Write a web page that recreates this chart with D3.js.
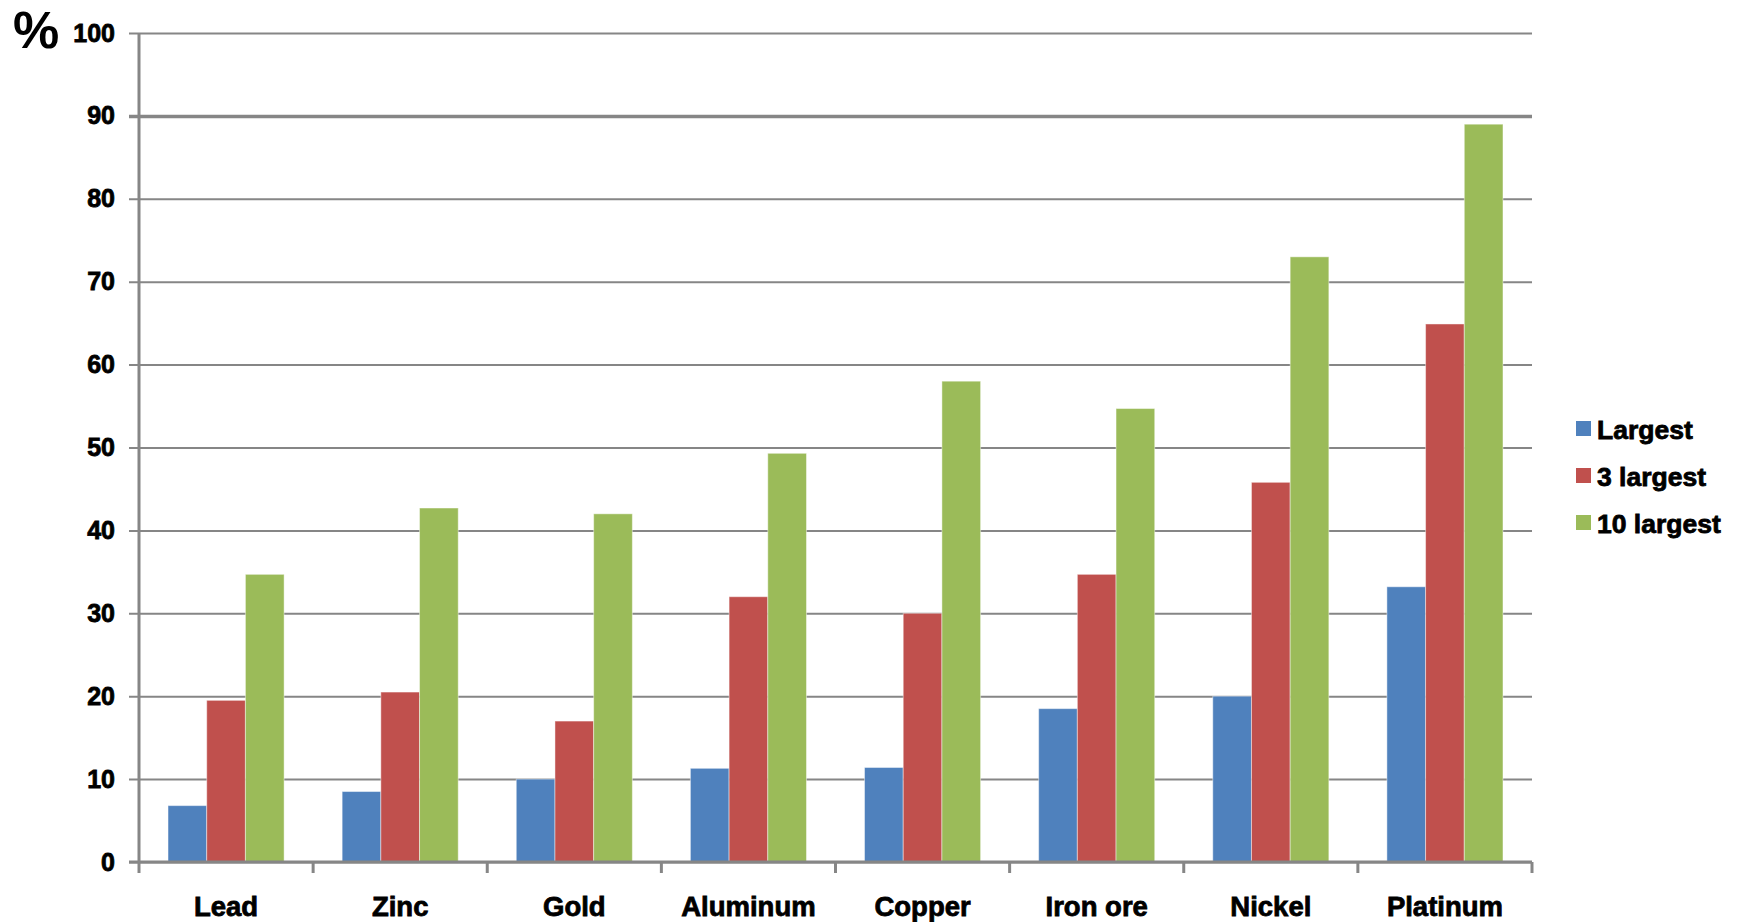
<!DOCTYPE html>
<html>
<head>
<meta charset="utf-8">
<script src="https://cdn.jsdelivr.net/npm/d3@7/dist/d3.min.js"></script>
<style>
  html, body { margin: 0; padding: 0; background: #ffffff; }
  svg { display: block; }
  text { font-family: "Liberation Sans", Arial, sans-serif; font-weight: bold; fill: #000; }
  .heavy { stroke: #000; stroke-width: 0.8px; }
</style>
</head>
<body>
<script>
// Share of world production held by the largest producers, by commodity
const categories = ["Lead", "Zinc", "Gold", "Aluminum", "Copper", "Iron ore", "Nickel", "Platinum"];
const seriesNames = ["Largest", "3 largest", "10 largest"];
const largest    = [6.8, 8.5, 10.0, 11.3, 11.4, 18.5, 20.0, 33.2];
const largest3   = [19.5, 20.5, 17.0, 32.0, 30.0, 34.7, 45.8, 64.9];
const largest10  = [34.7, 42.7, 42.0, 49.3, 58.0, 54.7, 73.0, 89.0];
const yTicks = [0, 10, 20, 30, 40, 50, 60, 70, 80, 90, 100];
const colors = ["#4F81BD", "#C0504D", "#9BBB59"];

const series = [largest, largest3, largest10];

const W = 1740, H = 922;
const plot = { left: 139, right: 1532, top: 33, bottom: 862 };
const axisColor = "#868686";

const svg = d3.select("body").append("svg")
  .attr("width", W).attr("height", H);

const x0 = d3.scaleBand()
  .domain(categories)
  .range([plot.left, plot.right])
  .paddingInner(1 / 3)
  .paddingOuter(1 / 6);

const x1 = d3.scaleBand()
  .domain(d3.range(seriesNames.length))
  .range([0, x0.bandwidth()]);

const y = d3.scaleLinear().domain([0, 100]).range([plot.bottom, plot.top]);

// Horizontal gridlines with short ticks to the left of the value axis
const grid = svg.append("g")
  .attr("transform", `translate(${plot.left},0)`)
  .call(d3.axisLeft(y).tickValues(yTicks).tickSize(-(plot.right - plot.left)).tickFormat(""));
grid.select(".domain").remove();
grid.selectAll(".tick line")
  .attr("stroke", axisColor)
  .attr("stroke-width", d => d === 90 ? 3.5 : 2)
  .attr("x2", plot.right - plot.left)
  .attr("x1", -10);

// Bars
const groups = svg.append("g").selectAll("g")
  .data(categories)
  .join("g")
  .attr("transform", d => `translate(${x0(d)},0)`);

groups.selectAll("rect")
  .data((c, i) => series.map((s, k) => ({ k, v: s[i] })))
  .join("rect")
  .attr("x", d => x1(d.k))
  .attr("width", x1.bandwidth())
  .attr("y", d => y(d.v))
  .attr("height", d => y(0) - y(d.v))
  .attr("fill", d => colors[d.k])
  .attr("stroke", "#ffffff")
  .attr("stroke-opacity", 0.45)
  .attr("stroke-width", 1);

// Value axis line and labels
svg.append("line")
  .attr("x1", plot.left).attr("x2", plot.left)
  .attr("y1", plot.top).attr("y2", plot.bottom)
  .attr("stroke", axisColor).attr("stroke-width", 3);

const yAxis = svg.append("g")
  .attr("transform", `translate(${plot.left},0)`)
  .call(d3.axisLeft(y).tickValues(yTicks).tickSize(0).tickPadding(24));
yAxis.select(".domain").remove();
yAxis.selectAll("text")
  .attr("class", "heavy")
  .attr("font-size", 25)
  .attr("font-family", "Liberation Sans, Arial, sans-serif")
  .attr("font-weight", "bold")
  .attr("fill", "#000");

// Category axis: boundary ticks and centred labels
const boundaries = categories.map(c => x0(c) - x0.step() * x0.paddingInner() / 2)
  .concat([plot.right]);
svg.append("line")
  .attr("x1", plot.left - 10).attr("x2", plot.right)
  .attr("y1", plot.bottom).attr("y2", plot.bottom)
  .attr("stroke", axisColor).attr("stroke-width", 3);
svg.append("g").selectAll("line")
  .data(boundaries)
  .join("line")
  .attr("x1", d => d).attr("x2", d => d)
  .attr("y1", plot.bottom).attr("y2", plot.bottom + 11)
  .attr("stroke", axisColor).attr("stroke-width", 3);

const xAxis = svg.append("g")
  .attr("transform", `translate(0,${plot.bottom})`)
  .call(d3.axisBottom(x0).tickSize(0).tickPadding(34));
xAxis.select(".domain").remove();
xAxis.selectAll("text")
  .attr("class", "heavy")
  .attr("font-size", 27.5)
  .attr("font-family", "Liberation Sans, Arial, sans-serif")
  .attr("font-weight", "bold")
  .attr("fill", "#000");

// Unit label
svg.append("text")
  .attr("x", 13).attr("y", 48)
  .attr("font-size", 52)
  .text("%");

// Legend
const legend = svg.append("g").attr("transform", "translate(1576,421)");
const items = legend.selectAll("g")
  .data(seriesNames)
  .join("g")
  .attr("transform", (d, i) => `translate(0,${i * 47})`);
items.append("rect")
  .attr("width", 15).attr("height", 15)
  .attr("fill", (d, i) => colors[i]);
items.append("text")
  .attr("class", "heavy")
  .attr("x", 21).attr("y", 8)
  .attr("dy", "0.36em")
  .attr("font-size", 26.5)
  .text(d => d);
</script>
</body>
</html>
